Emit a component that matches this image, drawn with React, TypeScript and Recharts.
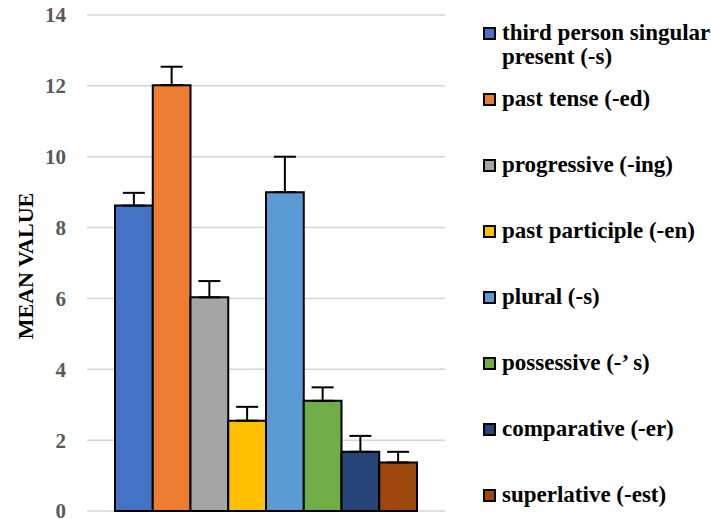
import React from 'react';
import { BarChart, Bar, XAxis, YAxis, CartesianGrid, Legend, ErrorBar } from 'recharts';

const seriesNames = [
  'third person singular present (-s)',
  'past tense (-ed)',
  'progressive (-ing)',
  'past participle (-en)',
  'plural (-s)',
  'possessive (-\u2019 s)',
  'comparative (-er)',
  'superlative (-est)',
];
const meanValues = [8.62, 12.02, 6.03, 2.55, 9.0, 3.11, 1.67, 1.37];
const upperErrors = [0.36, 0.52, 0.46, 0.39, 1.0, 0.38, 0.45, 0.3];
const seriesColors = ['#4472C4', '#ED7D31', '#A5A5A5', '#FFC000', '#5B9BD5', '#70AD47', '#264478', '#9E480E'];
const yTicks = [0, 2, 4, 6, 8, 10, 12, 14];

const FONT = "'Liberation Serif', 'Times New Roman', serif";

const row: Record<string, any> = { name: 'morphemes' };
seriesNames.forEach((_, i) => {
  row[`s${i}`] = meanValues[i];
  row[`e${i}`] = [0, upperErrors[i]];
});
const data = [row];

const renderLegend = (props: any) => {
  const payload = [...(props.payload || [])].sort(
    (a: any, b: any) => seriesNames.indexOf(a.value) - seriesNames.indexOf(b.value)
  );
  return (
    <div style={{ fontFamily: FONT, fontWeight: 'bold', fontSize: 23, color: '#000' }}>
      {payload.map((entry: any, i: number) => (
        <div key={i} style={{ position: 'relative', height: 66 }}>
          <div
            style={{
              position: 'absolute',
              left: 0,
              top: 6,
              width: 9,
              height: 9,
              border: '2px solid #000',
              background: entry.color,
            }}
          />
          <div style={{ position: 'absolute', left: 19, top: 0, width: 218, lineHeight: '24px' }}>
            {entry.value}
          </div>
        </div>
      ))}
    </div>
  );
};

const YLabel = (props: any) => {
  const { viewBox } = props;
  const cx = viewBox.x + 25;
  const cy = viewBox.y + viewBox.height / 2 + 3;
  return (
    <text
      x={cx}
      y={cy}
      transform={`rotate(-90, ${cx}, ${cy})`}
      textAnchor="middle"
      dominantBaseline="central"
      fontFamily={FONT}
      fontWeight="bold"
      fontSize={22}
      fill="#000"
    >
      MEAN VALUE
    </text>
  );
};

export default function App() {
  return (
    <div style={{ position: 'absolute', left: 0, top: 0, width: 711, height: 519, overflow: 'hidden', background: '#fff' }}>
      <BarChart
        width={711}
        height={519}
        data={data}
        margin={{ top: 15, right: 266, bottom: 8, left: 0 }}
        barGap={0}
        barSize={37.75}
      >
        <CartesianGrid vertical={false} stroke="#d4d4d4" strokeWidth={1.5} />
        <XAxis dataKey="name" hide />
        <YAxis
          width={87}
          domain={[0, 14]}
          ticks={yTicks}
          interval={0}
          axisLine={false}
          tickLine={false}
          tickSize={6}
          tickMargin={15}
          tick={{ fill: '#595959', fontFamily: FONT, fontWeight: 'bold', fontSize: 21 }}
          label={<YLabel />}
        />
        <Legend
          layout="horizontal"
          verticalAlign="middle"
          align="center"
          content={renderLegend}
          wrapperStyle={{ position: 'absolute', left: 483, top: 21, width: 240, height: 'auto', margin: 0 }}
        />
        {seriesNames.map((name, i) => (
          <Bar
            key={name}
            dataKey={`s${i}`}
            name={name}
            fill={seriesColors[i]}
            stroke="#000"
            strokeWidth={2}
            isAnimationActive={false}
          >
            <ErrorBar dataKey={`e${i}`} direction="y" width={11} stroke="#000" strokeWidth={2} />
          </Bar>
        ))}
      </BarChart>
    </div>
  );
}
